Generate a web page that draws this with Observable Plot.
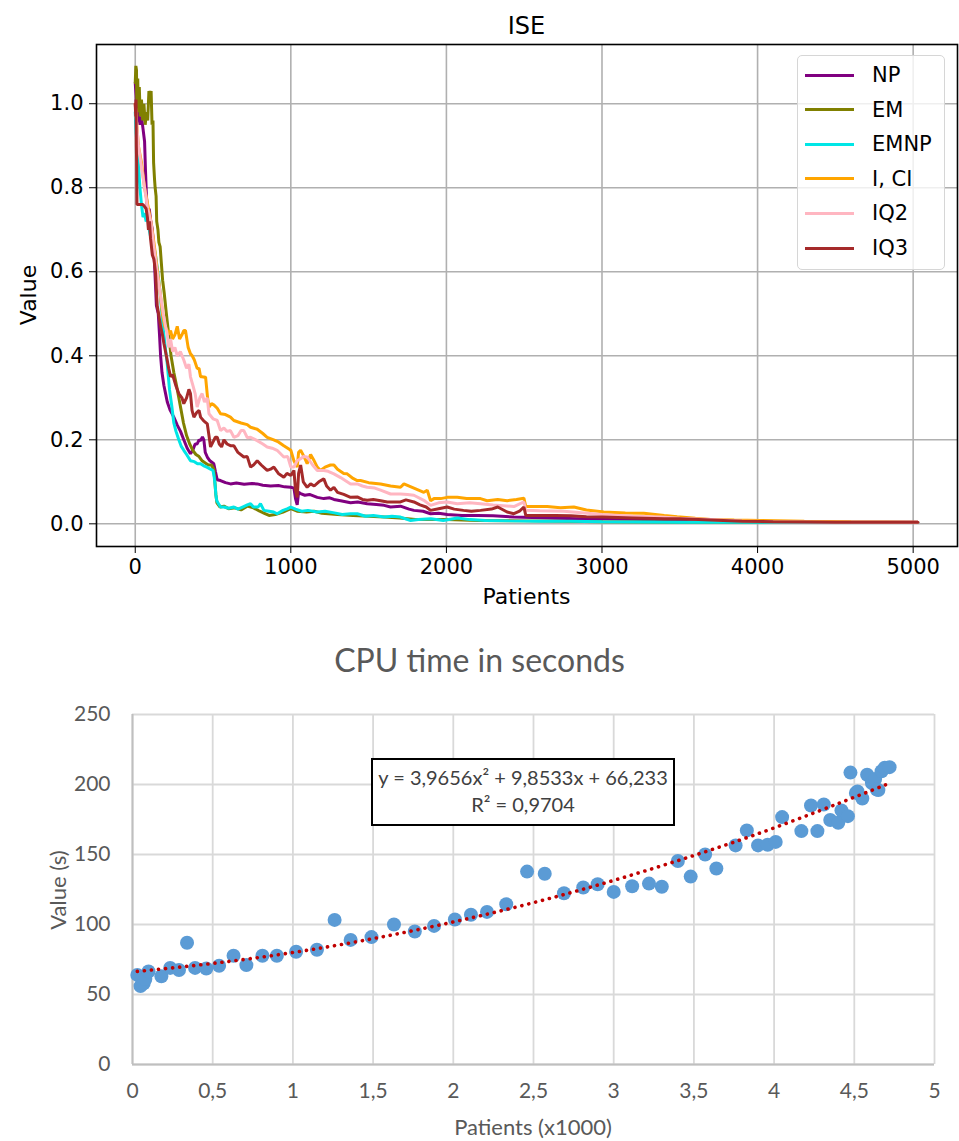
<!DOCTYPE html>
<html>
<head>
<meta charset="utf-8">
<script src="https://cdn.jsdelivr.net/npm/d3@7"></script>
<script src="https://cdn.jsdelivr.net/npm/@observablehq/plot@0.6"></script>
<style>
  html, body { margin: 0; padding: 0; background: #fff; }
  #page { position: relative; width: 959px; height: 1141px; overflow: hidden; background: #fff; }
  .abs { position: absolute; }
  .mpl { font-family: "DejaVu Sans", sans-serif; color: #000; }
  .xl { font-family: Lato, "Open Sans", sans-serif; color: #595959; }
</style>
</head>
<body>
<div id="page"></div>
<script>
// ---------- Top chart: ISE ----------
const seriesNames = ["NP", "EM", "EMNP", "I, CI", "IQ2", "IQ3"];
const seriesColors = ["#800080", "#808000", "#00e6e6", "#ffa500", "#ffb6c1", "#a52a2a"];
const iseXTicks = [0, 1000, 2000, 3000, 4000, 5000];
const iseYTicks = [0, 0.2, 0.4, 0.6, 0.8, 1.0];

const NP = [[0,1.05],[5,1.02],[10,0.96],[20,0.98],[30,0.95],[40,0.97],[50,0.94],[60,0.91],[66,0.84],[72,0.78],[80,0.74],[90,0.75],[100,0.72],[110,0.70],[118,0.66],[124,0.62],[130,0.57],[136,0.52],[148,0.50],[156,0.45],[163,0.40],[172,0.36],[184,0.33],[195,0.31],[206,0.29],[225,0.27],[248,0.254],[270,0.235],[291,0.22],[312,0.20],[334,0.18],[355,0.167],[370,0.175],[385,0.19],[398,0.19],[410,0.20],[420,0.198],[432,0.207],[441,0.20],[450,0.17],[463,0.159],[480,0.15],[505,0.143],[515,0.125],[527,0.105],[548,0.103],[580,0.098],[612,0.095],[650,0.097],[700,0.094],[750,0.096],[784,0.095],[820,0.092],[870,0.09],[920,0.091],[960,0.088],[1000,0.087],[1020,0.085],[1030,0.06],[1041,0.045],[1050,0.075],[1063,0.072],[1090,0.068],[1120,0.07],[1170,0.063],[1212,0.06],[1250,0.062],[1277,0.058],[1320,0.055],[1384,0.05],[1430,0.052],[1491,0.048],[1550,0.046],[1600,0.044],[1641,0.04],[1705,0.042],[1760,0.035],[1791,0.032],[1850,0.03],[1898,0.024],[1950,0.025],[2005,0.022],[2100,0.02],[2200,0.02],[2300,0.019],[2434,0.016],[2550,0.015],[2700,0.013],[2862,0.012],[3000,0.012],[3200,0.011],[3400,0.009],[3600,0.007],[3800,0.005],[4000,0.004],[4500,0.004],[5030,0.004]];

const EM = [[0,1.05],[4,1.09],[8,1.08],[10,1.0],[16,1.06],[20,0.98],[26,1.04],[32,0.97],[40,1.01],[48,0.96],[56,1.0],[64,0.95],[72,0.98],[80,0.96],[88,1.03],[96,1.02],[102,1.03],[108,0.95],[114,0.96],[118,0.86],[124,0.82],[128,0.80],[134,0.78],[138,0.72],[146,0.70],[152,0.67],[160,0.66],[168,0.62],[176,0.58],[186,0.55],[200,0.50],[215,0.45],[230,0.40],[248,0.36],[265,0.33],[280,0.30],[295,0.27],[310,0.24],[330,0.21],[350,0.19],[370,0.175],[390,0.165],[410,0.16],[430,0.15],[450,0.145],[470,0.14],[490,0.14],[505,0.13],[512,0.10],[518,0.07],[525,0.05],[545,0.04],[570,0.042],[600,0.036],[640,0.038],[680,0.033],[720,0.042],[760,0.038],[800,0.03],[830,0.025],[860,0.02],[900,0.022],[950,0.028],[1000,0.036],[1040,0.03],[1100,0.028],[1150,0.03],[1200,0.025],[1300,0.022],[1400,0.02],[1500,0.018],[1600,0.016],[1700,0.014],[1800,0.01],[2000,0.01],[2200,0.008],[2500,0.007],[3000,0.005],[3500,0.004],[4000,0.004],[4500,0.003],[5030,0.003]];

const EMNP = [[0,0.98],[6,0.93],[12,0.90],[20,0.86],[30,0.80],[40,0.76],[50,0.73],[60,0.74],[70,0.72],[80,0.73],[90,0.70],[100,0.68],[110,0.67],[120,0.66],[130,0.64],[145,0.60],[160,0.55],[175,0.48],[190,0.43],[206,0.38],[220,0.32],[235,0.28],[248,0.24],[262,0.22],[280,0.20],[295,0.185],[312,0.175],[330,0.165],[355,0.15],[380,0.148],[400,0.143],[420,0.143],[440,0.138],[460,0.135],[484,0.13],[500,0.127],[508,0.11],[514,0.09],[518,0.07],[524,0.055],[535,0.048],[548,0.04],[570,0.04],[600,0.037],[634,0.04],[660,0.035],[690,0.04],[720,0.045],[741,0.048],[760,0.04],[790,0.04],[805,0.048],[827,0.032],[860,0.03],[890,0.028],[912,0.024],[950,0.032],[980,0.036],[1000,0.04],[1030,0.035],[1070,0.03],[1110,0.032],[1170,0.028],[1220,0.03],[1280,0.026],[1330,0.022],[1384,0.024],[1427,0.024],[1480,0.018],[1530,0.02],[1600,0.016],[1650,0.018],[1705,0.016],[1770,0.008],[1820,0.01],[1900,0.012],[1980,0.008],[2070,0.014],[2150,0.01],[2250,0.008],[2400,0.007],[2600,0.006],[2800,0.006],[3000,0.005],[3500,0.004],[4000,0.004],[4500,0.003],[5030,0.003]];

const ICI = [[0,1.0],[10,0.95],[20,0.9],[40,0.86],[60,0.8],[80,0.76],[100,0.72],[120,0.67],[140,0.61],[160,0.55],[175,0.50],[190,0.47],[206,0.46],[216,0.45],[227,0.46],[240,0.44],[255,0.45],[270,0.47],[285,0.44],[300,0.45],[312,0.46],[323,0.46],[340,0.42],[355,0.405],[366,0.40],[380,0.39],[398,0.37],[410,0.37],[420,0.35],[430,0.35],[445,0.349],[452,0.35],[465,0.30],[474,0.278],[490,0.286],[505,0.283],[527,0.275],[548,0.262],[580,0.26],[612,0.254],[634,0.246],[680,0.24],[720,0.236],[741,0.23],[784,0.225],[820,0.215],[848,0.206],[890,0.20],[920,0.195],[955,0.186],[980,0.18],[1000,0.175],[1020,0.15],[1041,0.135],[1050,0.17],[1063,0.175],[1085,0.16],[1105,0.143],[1127,0.165],[1150,0.15],[1170,0.135],[1191,0.127],[1220,0.135],[1255,0.14],[1277,0.14],[1300,0.13],[1340,0.12],[1362,0.119],[1400,0.108],[1427,0.103],[1448,0.103],[1500,0.098],[1577,0.095],[1641,0.09],[1705,0.087],[1727,0.095],[1791,0.085],[1855,0.075],[1877,0.08],[1898,0.055],[1920,0.06],[1963,0.06],[2005,0.063],[2070,0.063],[2130,0.06],[2219,0.06],[2262,0.055],[2330,0.058],[2391,0.055],[2450,0.058],[2498,0.061],[2510,0.041],[2648,0.041],[2733,0.038],[2819,0.04],[2900,0.033],[3012,0.028],[3150,0.026],[3269,0.025],[3400,0.02],[3483,0.017],[3600,0.013],[3697,0.01],[3850,0.009],[4019,0.008],[4300,0.006],[4600,0.005],[5030,0.004]];

const IQ2 = [[0,1.0],[10,0.95],[20,0.9],[40,0.85],[60,0.8],[80,0.75],[100,0.72],[120,0.66],[140,0.6],[160,0.55],[180,0.5],[195,0.47],[206,0.45],[215,0.42],[227,0.44],[240,0.41],[255,0.42],[270,0.40],[290,0.41],[312,0.39],[330,0.37],[345,0.38],[355,0.35],[370,0.33],[385,0.31],[398,0.278],[415,0.30],[430,0.31],[445,0.29],[463,0.30],[474,0.262],[500,0.25],[527,0.246],[548,0.222],[570,0.228],[590,0.22],[612,0.222],[634,0.206],[660,0.21],[680,0.222],[698,0.222],[720,0.205],[741,0.206],[784,0.198],[820,0.19],[848,0.183],[880,0.18],[912,0.175],[955,0.159],[980,0.16],[1000,0.135],[1020,0.135],[1040,0.15],[1063,0.155],[1080,0.16],[1105,0.159],[1140,0.14],[1170,0.127],[1212,0.127],[1240,0.125],[1277,0.119],[1320,0.11],[1384,0.095],[1427,0.095],[1460,0.09],[1491,0.087],[1540,0.085],[1577,0.08],[1641,0.071],[1705,0.071],[1750,0.07],[1791,0.068],[1855,0.056],[1898,0.044],[1950,0.05],[2005,0.052],[2070,0.048],[2150,0.05],[2219,0.048],[2300,0.045],[2434,0.041],[2498,0.052],[2510,0.032],[2600,0.031],[2755,0.03],[2850,0.027],[3000,0.022],[3200,0.018],[3376,0.016],[3500,0.013],[3700,0.01],[3900,0.007],[4100,0.005],[4500,0.004],[5030,0.004]];

const IQ3 = [[0,1.0],[3,0.97],[5,1.01],[7,0.90],[9,0.86],[11,0.76],[30,0.76],[50,0.76],[60,0.755],[70,0.75],[78,0.73],[85,0.70],[92,0.72],[98,0.68],[104,0.66],[110,0.64],[120,0.63],[130,0.60],[141,0.52],[150,0.50],[163,0.47],[175,0.45],[184,0.43],[200,0.40],[215,0.37],[227,0.35],[240,0.355],[260,0.33],[280,0.31],[300,0.30],[312,0.286],[330,0.30],[345,0.32],[355,0.31],[365,0.27],[377,0.254],[395,0.265],[410,0.27],[420,0.254],[440,0.245],[463,0.238],[474,0.21],[484,0.183],[500,0.195],[515,0.206],[527,0.206],[540,0.19],[555,0.183],[570,0.20],[590,0.19],[612,0.186],[634,0.186],[660,0.17],[698,0.159],[720,0.16],[741,0.135],[760,0.14],[784,0.15],[810,0.14],[848,0.127],[870,0.13],[891,0.135],[920,0.12],[955,0.111],[975,0.12],[1000,0.115],[1020,0.127],[1030,0.08],[1041,0.063],[1050,0.12],[1063,0.14],[1080,0.10],[1105,0.087],[1127,0.095],[1150,0.09],[1180,0.10],[1212,0.107],[1230,0.09],[1255,0.08],[1277,0.087],[1300,0.075],[1340,0.07],[1384,0.063],[1427,0.064],[1460,0.058],[1491,0.056],[1530,0.058],[1577,0.055],[1620,0.052],[1641,0.052],[1705,0.052],[1740,0.057],[1791,0.052],[1830,0.045],[1870,0.04],[1898,0.032],[1950,0.036],[2005,0.04],[2050,0.035],[2110,0.032],[2160,0.03],[2219,0.032],[2290,0.035],[2330,0.04],[2390,0.028],[2434,0.024],[2470,0.03],[2498,0.04],[2510,0.02],[2600,0.02],[2700,0.02],[2800,0.019],[2900,0.017],[3000,0.016],[3200,0.014],[3400,0.012],[3500,0.012],[3700,0.009],[3900,0.006],[4100,0.005],[4500,0.004],[5030,0.004]];

const seriesData = [NP, EM, EMNP, ICI, IQ2, IQ3];

// ---------- Bottom chart: CPU time ----------
const cpuPatients = [0.03,0.05,0.07,0.08,0.10,0.18,0.235,0.29,0.34,0.39,0.46,0.54,0.63,0.71,0.81,0.90,1.02,1.15,1.26,1.36,1.49,1.63,1.76,1.88,2.01,2.11,2.21,2.33,2.46,2.57,2.69,2.81,2.90,3.00,3.115,3.22,3.30,3.40,3.48,3.57,3.64,3.76,3.83,3.90,3.96,4.01,4.05,4.17,4.23,4.27,4.31,4.35,4.40,4.42,4.46,4.476,4.51,4.52,4.55,4.58,4.61,4.63,4.64,4.65,4.67,4.69,4.72];
const cpuSeconds  = [64,56,58,61,66.5,63,69,67.5,87,69,68.6,70.5,77.7,71,77.7,77.7,80.5,82,103.3,89,91,100,95,99,103.6,107,109,114.5,137.8,136.3,122.3,126.4,128.7,123.3,127.3,129.2,127,145.4,134.2,150,140,156.5,167.2,156.5,157,159,176.7,166.7,185,166.7,185.7,174.6,172.7,181.5,177.4,208.5,194,195,190,207,201,204,196.4,196,209.5,212,212.4];
const trendPatients = [0.03,0.5,1,1.5,2,2.5,3,3.5,4,4.5,4.7];
const trendSeconds  = [66.5,72.2,80,89.9,101.8,115.6,131.5,149.3,169,190.9,200];
const cpuXTicks = [0,0.5,1,1.5,2,2.5,3,3.5,4,4.5,5];
const cpuYTicks = [0,50,100,150,200,250];
const equationLines = ["y = 3,9656x\u00b2 + 9,8533x + 66,233", "R\u00b2 = 0,9704"];

const page = document.getElementById("page");
function addDiv(html, css, cls) {
  const d = document.createElement("div");
  d.className = "abs " + (cls || "");
  d.innerHTML = html;
  Object.assign(d.style, css);
  page.appendChild(d);
  return d;
}

// ---- top plot
const topMarks = [
  Plot.gridX(iseXTicks, {stroke: "#b0b0b0", strokeOpacity: 1, strokeWidth: 1.6}),
  Plot.gridY(iseYTicks, {stroke: "#b0b0b0", strokeOpacity: 1, strokeWidth: 1.6}),
];
seriesData.forEach((arr, i) => {
  topMarks.push(Plot.line(arr, {x: d => d[0], y: d => d[1], stroke: seriesColors[i], strokeWidth: 3, strokeLinejoin: "miter"}));
});
topMarks.push(
  Plot.axisX({ticks: iseXTicks, tickSize: 7, tickPadding: 6, tickFormat: d => String(d), label: null, stroke: "#000"}),
  Plot.axisY({ticks: iseYTicks, tickSize: 7, tickPadding: 6, tickFormat: d3.format(".1f"), label: null, stroke: "#000"}),
  Plot.frame({stroke: "#000", strokeWidth: 1.6})
);
const topPlot = Plot.plot({
  width: 959, height: 610,
  marginTop: 44, marginBottom: 64, marginLeft: 96, marginRight: 2,
  x: {domain: [-249, 5285]},
  y: {domain: [-0.054, 1.141]},
  style: {fontFamily: "DejaVu Sans, sans-serif", fontSize: "21px", color: "#000", background: "transparent", overflow: "visible"},
  marks: topMarks
});
topPlot.style.position = "absolute";
topPlot.style.left = "0px";
topPlot.style.top = "0px";
page.appendChild(topPlot);

addDiv("ISE", {left: "96px", width: "861px", top: "12px", textAlign: "center", fontSize: "24px"}, "mpl");
addDiv("Patients", {left: "96px", width: "861px", top: "584px", textAlign: "center", fontSize: "22px"}, "mpl");
addDiv("Value", {left: "28px", top: "295px", fontSize: "22px", transform: "translate(-50%,-50%) rotate(-90deg)", whiteSpace: "nowrap"}, "mpl");

// legend
const leg = addDiv("", {left: "797px", top: "55px", width: "146px", height: "213px", border: "1.5px solid #d6d6d6", borderRadius: "5px", background: "rgba(255,255,255,0.8)"}, "mpl");
seriesNames.forEach((name, i) => {
  const cy = 19 + i * 34.6;
  const sw = document.createElement("div");
  Object.assign(sw.style, {position: "absolute", left: "7px", top: (cy - 1.5) + "px", width: "49px", height: "3px", background: seriesColors[i]});
  leg.appendChild(sw);
  const t = document.createElement("div");
  t.textContent = name;
  Object.assign(t.style, {position: "absolute", left: "74px", top: (cy - 13) + "px", fontSize: "21px", lineHeight: "26px", whiteSpace: "nowrap"});
  leg.appendChild(t);
});

// ---- bottom plot
const cpu = cpuPatients.map((x, i) => ({x, y: cpuSeconds[i]}));
const trend = trendPatients.map((x, i) => ({x, y: trendSeconds[i]}));
const botPlot = Plot.plot({
  width: 959, height: 420,
  marginTop: 24, marginBottom: 46, marginLeft: 132, marginRight: 25,
  x: {domain: [0, 5]},
  y: {domain: [0, 250]},
  style: {fontFamily: "Lato, 'Open Sans', sans-serif", fontSize: "21px", color: "#595959", background: "transparent", overflow: "visible"},
  marks: [
    Plot.gridX(cpuXTicks, {stroke: "#d9d9d9", strokeOpacity: 1, strokeWidth: 1.8}),
    Plot.gridY(cpuYTicks, {stroke: "#d9d9d9", strokeOpacity: 1, strokeWidth: 1.8}),
    Plot.ruleY([0], {stroke: "#bfbfbf", strokeWidth: 2}),
    Plot.ruleX([0], {stroke: "#bfbfbf", strokeWidth: 2}),
    Plot.axisX({ticks: cpuXTicks, tickSize: 0, tickPadding: 19, tickFormat: d => String(d).replace(".", ","), label: null}),
    Plot.axisY({ticks: cpuYTicks, tickSize: 0, tickPadding: 22, label: null}),
    Plot.dot(cpu, {x: "x", y: "y", r: 7, fill: "#5b9bd5", stroke: "none"}),
    Plot.line(trend, {x: "x", y: "y", curve: "natural", stroke: "#c00000", strokeWidth: 3.6, strokeDasharray: "0.1 7", strokeLinecap: "round"})
  ]
});
botPlot.style.position = "absolute";
botPlot.style.left = "0px";
botPlot.style.top = "690px";
page.appendChild(botPlot);

addDiv("CPU time in seconds", {left: "0px", width: "959px", top: "640px", textAlign: "center", fontSize: "32px"}, "xl");
addDiv("Value (s)", {left: "57px", top: "890px", fontSize: "22px", transform: "translate(-50%,-50%) rotate(-90deg)", whiteSpace: "nowrap"}, "xl");
addDiv("Patients (x1000)", {left: "132px", width: "802px", top: "1113px", textAlign: "center", fontSize: "22px"}, "xl");
addDiv(equationLines.map(s => "<div>" + s + "</div>").join(""),
  {left: "371px", top: "758px", width: "300px", height: "60px", border: "2px solid #000", background: "#fff", textAlign: "center", fontSize: "20px", lineHeight: "27px", paddingTop: "4px", color: "#404040", boxSizing: "content-box"}, "xl");
</script>
</body>
</html>
